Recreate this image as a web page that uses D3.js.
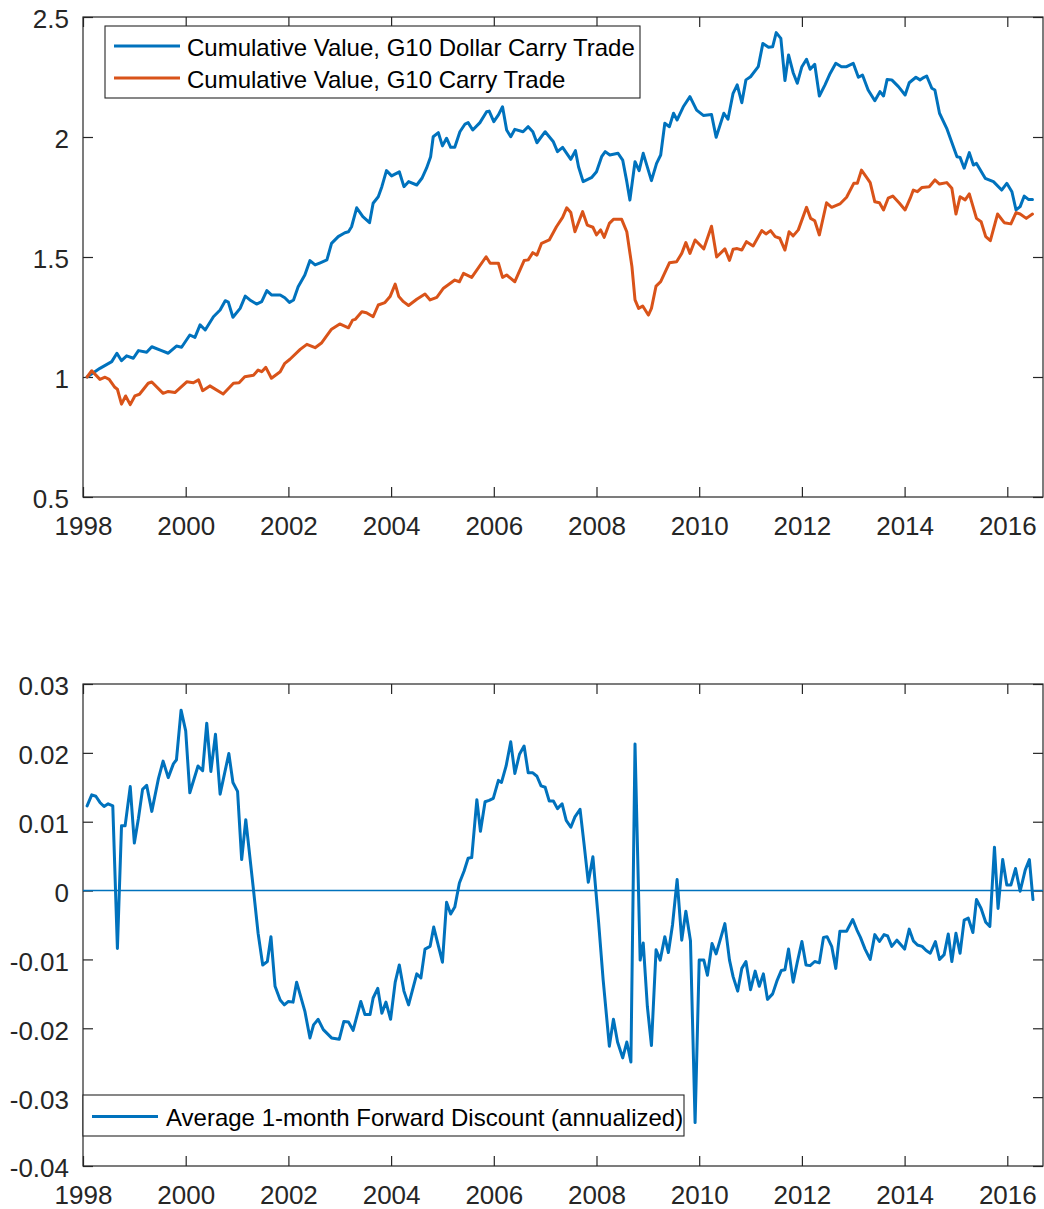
<!DOCTYPE html>
<html>
<head>
<meta charset="utf-8">
<script src="https://cdn.jsdelivr.net/npm/d3@7"></script>
<style>
  html, body { margin: 0; padding: 0; background: #fff; }
  svg { display: block; }
  text { font-family: "Liberation Sans", Arial, Helvetica, sans-serif; }
</style>
</head>
<body>
<svg id="chart" width="1044" height="1209"></svg>
<script>
// ---------------- DATA ----------------
const dollarCarryT = [1998.08,1998.33,1998.56,1998.66,1998.75,1998.85,1998.98,1999.08,1999.24,1999.34,1999.53,1999.66,1999.82,1999.92,2000.08,2000.18,2000.28,2000.38,2000.54,2000.67,2000.77,2000.83,2000.92,2001.06,2001.16,2001.25,2001.38,2001.48,2001.58,2001.67,2001.84,2001.93,2002.02,2002.10,2002.19,2002.32,2002.42,2002.52,2002.62,2002.75,2002.84,2002.97,2003.10,2003.17,2003.23,2003.33,2003.45,2003.58,2003.65,2003.75,2003.82,2003.91,2004.01,2004.16,2004.25,2004.34,2004.50,2004.60,2004.69,2004.77,2004.82,2004.92,2005.00,2005.08,2005.16,2005.24,2005.34,2005.44,2005.50,2005.59,2005.73,2005.86,2005.91,2006.00,2006.09,2006.17,2006.25,2006.33,2006.41,2006.57,2006.67,2006.76,2006.84,2007.00,2007.16,2007.24,2007.34,2007.50,2007.59,2007.65,2007.74,2007.91,2008.00,2008.10,2008.17,2008.26,2008.42,2008.51,2008.59,2008.65,2008.75,2008.83,2008.91,2009.07,2009.17,2009.25,2009.33,2009.42,2009.50,2009.57,2009.69,2009.82,2009.95,2010.08,2010.24,2010.33,2010.48,2010.56,2010.66,2010.74,2010.83,2010.91,2011.00,2011.15,2011.24,2011.35,2011.43,2011.50,2011.59,2011.67,2011.74,2011.83,2011.91,2012.00,2012.09,2012.16,2012.25,2012.34,2012.45,2012.55,2012.66,2012.77,2012.87,2013.00,2013.10,2013.18,2013.29,2013.42,2013.52,2013.59,2013.66,2013.75,2013.88,2014.01,2014.09,2014.22,2014.30,2014.35,2014.43,2014.53,2014.59,2014.68,2014.82,2015.02,2015.08,2015.16,2015.26,2015.34,2015.40,2015.57,2015.73,2015.89,2015.99,2016.09,2016.17,2016.25,2016.33,2016.41,2016.49];
const dollarCarryV = [1.000,1.036,1.064,1.099,1.068,1.088,1.078,1.110,1.103,1.126,1.110,1.099,1.129,1.124,1.175,1.165,1.217,1.196,1.251,1.279,1.318,1.312,1.249,1.286,1.337,1.321,1.304,1.314,1.360,1.342,1.342,1.330,1.311,1.321,1.376,1.425,1.485,1.467,1.476,1.488,1.557,1.585,1.601,1.605,1.626,1.705,1.668,1.643,1.724,1.751,1.793,1.860,1.838,1.855,1.793,1.814,1.800,1.828,1.870,1.918,2.001,2.018,1.963,1.995,1.957,1.957,2.022,2.054,2.060,2.029,2.060,2.105,2.108,2.064,2.092,2.126,2.029,2.001,2.032,2.022,2.043,2.022,1.976,2.022,1.980,1.939,1.957,1.907,1.943,1.876,1.814,1.832,1.855,1.918,1.939,1.925,1.932,1.904,1.814,1.737,1.897,1.860,1.932,1.818,1.890,1.925,2.057,2.043,2.099,2.071,2.126,2.168,2.112,2.090,2.094,1.999,2.099,2.074,2.182,2.217,2.143,2.238,2.251,2.293,2.390,2.374,2.376,2.435,2.411,2.235,2.342,2.268,2.224,2.293,2.324,2.282,2.303,2.171,2.217,2.265,2.307,2.293,2.293,2.307,2.249,2.258,2.196,2.151,2.189,2.171,2.240,2.238,2.210,2.175,2.226,2.249,2.238,2.245,2.254,2.203,2.196,2.099,2.036,1.918,1.915,1.870,1.935,1.883,1.890,1.828,1.814,1.779,1.807,1.772,1.696,1.710,1.754,1.740,1.740];

const carryT = [1998.08,1998.17,1998.33,1998.43,1998.51,1998.62,1998.67,1998.75,1998.83,1998.92,1999.01,1999.10,1999.27,1999.34,1999.56,1999.66,1999.79,2000.02,2000.15,2000.25,2000.33,2000.47,2000.73,2000.93,2001.04,2001.15,2001.32,2001.41,2001.48,2001.56,2001.67,2001.84,2001.93,2002.03,2002.23,2002.36,2002.52,2002.65,2002.84,2003.00,2003.17,2003.25,2003.30,2003.43,2003.52,2003.65,2003.75,2003.88,2003.98,2004.08,2004.15,2004.24,2004.34,2004.50,2004.66,2004.76,2004.89,2005.02,2005.24,2005.33,2005.41,2005.57,2005.85,2005.93,2006.09,2006.17,2006.25,2006.41,2006.59,2006.67,2006.76,2006.84,2006.93,2007.08,2007.22,2007.34,2007.42,2007.50,2007.58,2007.73,2007.82,2007.93,2008.00,2008.08,2008.15,2008.25,2008.33,2008.49,2008.59,2008.69,2008.75,2008.82,2008.90,2009.01,2009.07,2009.16,2009.25,2009.42,2009.56,2009.66,2009.74,2009.82,2009.92,2010.09,2010.24,2010.34,2010.50,2010.59,2010.66,2010.74,2010.83,2010.92,2011.05,2011.22,2011.30,2011.39,2011.48,2011.57,2011.67,2011.75,2011.83,2011.93,2012.09,2012.17,2012.25,2012.34,2012.48,2012.58,2012.74,2012.87,2013.01,2013.08,2013.16,2013.26,2013.33,2013.42,2013.51,2013.59,2013.68,2013.77,2013.90,2014.01,2014.11,2014.17,2014.25,2014.34,2014.48,2014.59,2014.68,2014.82,2014.92,2015.00,2015.08,2015.18,2015.26,2015.40,2015.49,2015.58,2015.67,2015.81,2015.94,2016.07,2016.17,2016.25,2016.37,2016.49];
const carryV = [1.000,1.026,0.990,0.999,0.990,0.957,0.949,0.887,0.921,0.885,0.921,0.928,0.974,0.979,0.932,0.940,0.935,0.980,0.976,0.988,0.943,0.963,0.929,0.974,0.976,1.001,1.007,1.029,1.022,1.040,0.995,1.022,1.057,1.074,1.115,1.136,1.122,1.143,1.199,1.221,1.205,1.237,1.240,1.272,1.268,1.251,1.300,1.310,1.335,1.387,1.335,1.314,1.298,1.324,1.346,1.321,1.332,1.370,1.404,1.397,1.432,1.415,1.501,1.474,1.474,1.415,1.425,1.397,1.485,1.488,1.518,1.508,1.557,1.571,1.626,1.665,1.705,1.685,1.605,1.689,1.633,1.624,1.592,1.613,1.582,1.640,1.657,1.657,1.605,1.460,1.321,1.286,1.296,1.258,1.286,1.379,1.397,1.476,1.480,1.515,1.560,1.515,1.571,1.534,1.628,1.500,1.534,1.486,1.532,1.535,1.529,1.564,1.546,1.610,1.596,1.610,1.585,1.578,1.529,1.605,1.588,1.613,1.707,1.661,1.651,1.592,1.726,1.707,1.721,1.749,1.807,1.807,1.862,1.832,1.810,1.730,1.726,1.696,1.745,1.754,1.724,1.696,1.745,1.779,1.772,1.790,1.793,1.821,1.804,1.810,1.786,1.679,1.751,1.738,1.763,1.661,1.647,1.585,1.568,1.679,1.643,1.638,1.685,1.679,1.661,1.679];

const fwdT = [1998.08,1998.17,1998.25,1998.33,1998.41,1998.49,1998.58,1998.67,1998.75,1998.82,1998.92,1999.00,1999.08,1999.16,1999.24,1999.34,1999.47,1999.56,1999.66,1999.76,1999.82,1999.91,2000.00,2000.08,2000.24,2000.33,2000.41,2000.49,2000.58,2000.67,2000.84,2000.92,2001.01,2001.09,2001.17,2001.32,2001.41,2001.50,2001.59,2001.66,2001.74,2001.84,2001.92,2002.00,2002.09,2002.16,2002.32,2002.42,2002.49,2002.58,2002.68,2002.84,2002.99,2003.08,2003.17,2003.26,2003.41,2003.49,2003.59,2003.65,2003.74,2003.82,2003.90,2003.99,2004.08,2004.16,2004.25,2004.34,2004.50,2004.58,2004.66,2004.76,2004.83,2005.00,2005.08,2005.16,2005.24,2005.33,2005.42,2005.50,2005.57,2005.67,2005.74,2005.83,2005.91,2005.99,2006.09,2006.15,2006.24,2006.33,2006.41,2006.50,2006.59,2006.67,2006.76,2006.84,2006.92,2007.00,2007.08,2007.16,2007.24,2007.33,2007.41,2007.50,2007.58,2007.68,2007.76,2007.84,2007.93,2008.04,2008.13,2008.25,2008.33,2008.41,2008.51,2008.59,2008.67,2008.75,2008.85,2008.91,2008.99,2009.07,2009.16,2009.24,2009.33,2009.40,2009.48,2009.57,2009.66,2009.74,2009.83,2009.92,2010.00,2010.09,2010.16,2010.25,2010.33,2010.50,2010.59,2010.66,2010.75,2010.83,2010.91,2011.00,2011.09,2011.17,2011.25,2011.33,2011.43,2011.52,2011.60,2011.67,2011.74,2011.83,2011.91,2012.00,2012.08,2012.16,2012.25,2012.34,2012.42,2012.49,2012.58,2012.66,2012.74,2012.87,2012.99,2013.07,2013.14,2013.23,2013.33,2013.42,2013.51,2013.60,2013.67,2013.75,2013.85,2014.00,2014.09,2014.17,2014.25,2014.34,2014.42,2014.50,2014.60,2014.68,2014.77,2014.85,2014.92,2015.00,2015.08,2015.16,2015.24,2015.33,2015.40,2015.49,2015.58,2015.66,2015.75,2015.82,2015.91,2015.99,2016.07,2016.16,2016.25,2016.35,2016.43,2016.50];
const fwdV = [0.0123,0.0139,0.0137,0.0128,0.0122,0.0126,0.0123,-0.0084,0.0094,0.0094,0.0151,0.0069,0.0105,0.0147,0.0153,0.0115,0.0163,0.0188,0.0164,0.0184,0.0190,0.0262,0.0232,0.0142,0.0181,0.0174,0.0243,0.0173,0.0227,0.0140,0.0199,0.0157,0.0144,0.0045,0.0103,0.0001,-0.0062,-0.0108,-0.0103,-0.0067,-0.0139,-0.0159,-0.0166,-0.0161,-0.0162,-0.0133,-0.0175,-0.0214,-0.0195,-0.0187,-0.0202,-0.0214,-0.0216,-0.0190,-0.0191,-0.0203,-0.0161,-0.0180,-0.0180,-0.0156,-0.0142,-0.0178,-0.0162,-0.0187,-0.0133,-0.0108,-0.0146,-0.0166,-0.0121,-0.0127,-0.0085,-0.0081,-0.0053,-0.0104,-0.0017,-0.0034,-0.0024,0.0011,0.0028,0.0047,0.0048,0.0132,0.0086,0.0129,0.0131,0.0134,0.0160,0.0157,0.0181,0.0216,0.0170,0.0198,0.0210,0.0171,0.0171,0.0166,0.0152,0.0150,0.0130,0.0130,0.0119,0.0126,0.0102,0.0092,0.0107,0.0118,0.0066,0.0012,0.0049,-0.0045,-0.0130,-0.0226,-0.0187,-0.0220,-0.0243,-0.0220,-0.0249,0.0213,-0.0101,-0.0076,-0.0168,-0.0225,-0.0086,-0.0101,-0.0067,-0.0090,-0.0050,0.0016,-0.0072,-0.0030,-0.0073,-0.0337,-0.0101,-0.0101,-0.0123,-0.0077,-0.0092,-0.0048,-0.0101,-0.0125,-0.0146,-0.0113,-0.0103,-0.0144,-0.0117,-0.0139,-0.0121,-0.0158,-0.0150,-0.0130,-0.0116,-0.0115,-0.0085,-0.0133,-0.0104,-0.0074,-0.0108,-0.0109,-0.0103,-0.0105,-0.0068,-0.0067,-0.0081,-0.0113,-0.0059,-0.0059,-0.0042,-0.0057,-0.0068,-0.0085,-0.0100,-0.0064,-0.0074,-0.0064,-0.0066,-0.0081,-0.0072,-0.0085,-0.0056,-0.0073,-0.0079,-0.0081,-0.0087,-0.0091,-0.0074,-0.0100,-0.0093,-0.0063,-0.0103,-0.0062,-0.0091,-0.0043,-0.0040,-0.0061,-0.0013,-0.0026,-0.0046,-0.0052,0.0063,-0.0026,0.0045,0.0008,0.0008,0.0032,-0.0001,0.0030,0.0045,-0.0013];

const yearTicks = [1998,2000,2002,2004,2006,2008,2010,2012,2014,2016];
const yearTickLabels = ["1998","2000","2002","2004","2006","2008","2010","2012","2014","2016"];
const topYTicks = [0.5,1,1.5,2,2.5];
const topYTickLabels = ["0.5","1","1.5","2","2.5"];
const botYTicks = [0.03,0.02,0.01,0,-0.01,-0.02,-0.03,-0.04];
const botYTickLabels = ["0.03","0.02","0.01","0","-0.01","-0.02","-0.03","-0.04"];
const topLegend = ["Cumulative Value, G10 Dollar Carry Trade","Cumulative Value, G10 Carry Trade"];
const botLegend = ["Average 1-month Forward Discount (annualized)"];

// ---------------- STYLE / LAYOUT ----------------
const BLUE = "#0072BD", ORANGE = "#D95319", AX = "#262626";
const left = 83, right = 1043;
const top1 = 17, bot1 = 497;
const top2 = 684, bot2 = 1166;
const TICK_FS = 26, LEG_FS = 24;

const svg = d3.select("#chart");
const x = d3.scaleLinear().domain([1998, 1998 + (right - left) / 51.35]).range([left, right]);
const y1 = d3.scaleLinear().domain([0.5, 2.5]).range([bot1, top1]);
const y2 = d3.scaleLinear().domain([-0.04, 0.03]).range([bot2, top2]);

const defs = svg.append("defs");
function clip(id, t, b) {
  defs.append("clipPath").attr("id", id).append("rect")
    .attr("x", left).attr("y", t).attr("width", right - left).attr("height", b - t);
}
clip("c1", top1, bot1); clip("c2", top2, bot2);

function drawAxes(yScale, t, b, yTicks, yLabels) {
  const g = svg.append("g");
  const ab = g.append("g").attr("transform", `translate(0,${b})`)
    .call(d3.axisBottom(x).tickValues(yearTicks).tickFormat((d, i) => yearTickLabels[i])
      .tickSizeInner(-10).tickSizeOuter(0).tickPadding(19.5));
  const at = g.append("g").attr("transform", `translate(0,${t})`)
    .call(d3.axisTop(x).tickValues(yearTicks).tickFormat("").tickSizeInner(-10).tickSizeOuter(0));
  const al = g.append("g").attr("transform", `translate(${left},0)`)
    .call(d3.axisLeft(yScale).tickValues(yTicks).tickFormat((d, i) => yLabels[i])
      .tickSizeInner(-10).tickSizeOuter(0).tickPadding(14));
  const ar = g.append("g").attr("transform", `translate(${right},0)`)
    .call(d3.axisRight(yScale).tickValues(yTicks).tickFormat("").tickSizeInner(-10).tickSizeOuter(0));
  [ab, at, al, ar].forEach(a => {
    a.select(".domain").remove();
    a.selectAll(".tick line").attr("stroke", AX).attr("stroke-width", 1.2);
    a.selectAll("text").attr("fill", AX).style("font-size", TICK_FS + "px")
      .style("font-family", '"Liberation Sans", Arial, sans-serif');
  });
  al.selectAll("text").attr("dy", "0.42em");
  g.append("rect").attr("x", left).attr("y", t).attr("width", right - left).attr("height", b - t)
    .attr("fill", "none").attr("stroke", AX).attr("stroke-width", 1.2);
}

function drawLine(T, V, yScale, color, width, clipId) {
  const pts = T.map((t, i) => [t, V[i]]);
  svg.append("path").datum(pts)
    .attr("clip-path", `url(#${clipId})`)
    .attr("fill", "none").attr("stroke", color).attr("stroke-width", width)
    .attr("stroke-linejoin", "round").attr("stroke-linecap", "round")
    .attr("d", d3.line().x(d => x(d[0])).y(d => yScale(d[1])));
}

// ---------------- TOP PANEL ----------------
drawAxes(y1, top1, bot1, topYTicks, topYTickLabels);
drawLine(dollarCarryT, dollarCarryV, y1, BLUE, 3, "c1");
drawLine(carryT, carryV, y1, ORANGE, 3, "c1");

const lg1 = svg.append("g");
lg1.append("rect").attr("x", 105).attr("y", 26).attr("width", 535).attr("height", 72)
  .attr("fill", "#fff").attr("stroke", AX).attr("stroke-width", 1.1);
[[BLUE, 46], [ORANGE, 78]].forEach((c, i) => {
  lg1.append("line").attr("x1", 114).attr("x2", 180).attr("y1", c[1]).attr("y2", c[1])
    .attr("stroke", c[0]).attr("stroke-width", 3);
  lg1.append("text").attr("x", 187).attr("y", c[1] + 9.5).attr("fill", "#000")
    .style("font-size", LEG_FS + "px").text(topLegend[i]);
});

// ---------------- BOTTOM PANEL ----------------
drawAxes(y2, top2, bot2, botYTicks, botYTickLabels);
svg.append("line").attr("x1", left).attr("x2", right).attr("y1", y2(0)).attr("y2", y2(0))
  .attr("stroke", BLUE).attr("stroke-width", 1.4);
drawLine(fwdT, fwdV, y2, BLUE, 3, "c2");

const lg2 = svg.append("g");
lg2.append("rect").attr("x", 83).attr("y", 1095).attr("width", 601).attr("height", 41)
  .attr("fill", "#fff").attr("stroke", AX).attr("stroke-width", 1.1);
lg2.append("line").attr("x1", 92).attr("x2", 158).attr("y1", 1116.5).attr("y2", 1116.5)
  .attr("stroke", BLUE).attr("stroke-width", 3);
lg2.append("text").attr("x", 166).attr("y", 1125.5).attr("fill", "#000")
  .style("font-size", LEG_FS + "px").text(botLegend[0]);
</script>
</body>
</html>
